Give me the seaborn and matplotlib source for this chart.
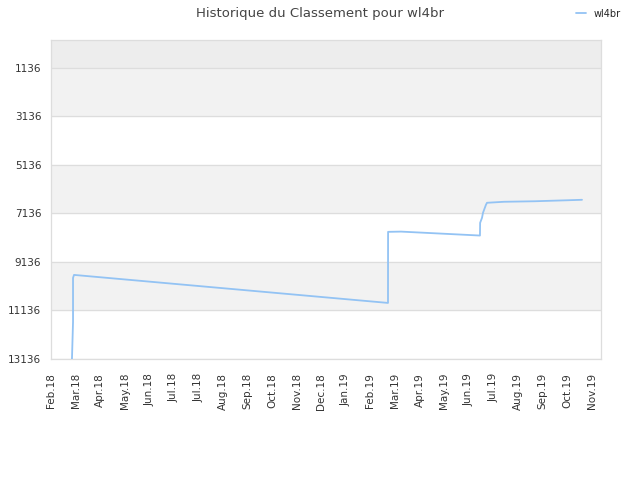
import numpy as np
import pandas as pd
import matplotlib
matplotlib.use("Agg")
import matplotlib.pyplot as plt
import seaborn as sns

# jours depuis le 1er fév. 2018 et classement
days = [25.6, 26.9, 26.9, 28.1, 411.5, 411.6, 427.4, 523.8, 524.0, 526.3,
        527.5, 531.1, 532.4, 553.1, 590.9, 630.0, 648.4]
ranks = [13136, 11611, 9796, 9673, 10827, 7900, 7890, 8052, 7528, 7322,
         7116, 6786, 6703, 6662, 6640, 6600, 6580]

tick_labels = ["Feb.18", "Mar.18", "Apr.18", "May.18", "Jun.18", "Jul.18",
               "Jul.18", "Aug.18", "Sep.18", "Oct.18", "Nov.18", "Dec.18",
               "Jan.19", "Feb.19", "Mar.19", "Apr.19", "May.19", "Jun.19",
               "Jul.19", "Aug.19", "Sep.19", "Oct.19", "Nov.19"]
y_ticks = [1136, 3136, 5136, 7136, 9136, 11136, 13136]

df = pd.DataFrame({"day": days, "rank": ranks, "joueur": "wl4br"})

sns.set_style("white")
fig = plt.figure(figsize=(6.4, 4.8), dpi=100)
ax = fig.add_axes([51 / 640, 1 - 359 / 480, 550 / 640, 319 / 480])

tick_step = 30
ax.set_xlim(0, 671.6)
ax.set_ylim(13136, 0)

# bandes alternées
ax.axhspan(0, 1136, color="#ededed", zorder=0)
for i, lo in enumerate(y_ticks[:-1]):
    if i % 2 == 0:
        ax.axhspan(lo, lo + 2000, color="#f2f2f2", zorder=0)
for t in y_ticks:
    ax.axhline(t, color="#dddddd", lw=0.9, zorder=1)

sns.lineplot(data=df, x="day", y="rank", hue="joueur", palette=["#93c3f4"],
             lw=1.3, ax=ax, sort=False, estimator=None, zorder=3)

ax.set_xticks(np.arange(len(tick_labels)) * tick_step)
ax.set_xticklabels(tick_labels, rotation=90, fontsize=7.5, color="#333333")
ax.set_yticks(y_ticks)
ax.set_yticklabels([str(t) for t in y_ticks], fontsize=7.5, color="#333333")
ax.tick_params(axis="x", length=0, pad=10)
ax.tick_params(axis="y", length=0, pad=7)
ax.set_xlabel("")
ax.set_ylabel("")
for s in ax.spines.values():
    s.set_color("#dddddd")
    s.set_linewidth(0.9)

fig.suptitle("Historique du Classement pour wl4br", y=0.985, fontsize=9.5,
             color="#444444")
ax.legend(loc="upper right", bbox_to_anchor=(0.984, 1.0),
          bbox_transform=fig.transFigure, frameon=False, fontsize=7,
          handlelength=1.0, title=None)

fig.savefig("out.png", dpi=100)
